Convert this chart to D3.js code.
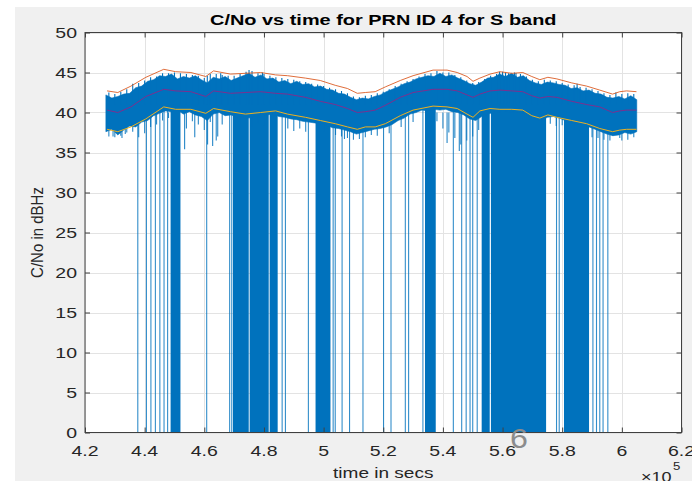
<!DOCTYPE html>
<html><head><meta charset="utf-8">
<script src="https://cdn.jsdelivr.net/npm/d3@7"></script>
<style>html,body{margin:0;padding:0;background:#fff;}svg{display:block;}</style>
</head><body>
<svg id="chart" width="692" height="481"></svg>
<script>
// ---- data (time in units of 1e5 s) ----
const titleText = "C/No vs time for PRN ID 4 for S band";
const xLabelText = "time in secs";
const yLabelText = "C/No in dBHz";
const xTicks = [4.2,4.4,4.6,4.8,5.0,5.2,5.4,5.6,5.8,6.0,6.2];
const xTickLabels = ["4.2","4.4","4.6","4.8","5","5.2","5.4","5.6","5.8","6","6.2"];
const yTicks = [0,5,10,15,20,25,30,35,40,45,50];
const yTickLabels = ["0","5","10","15","20","25","30","35","40","45","50"];

// smoothed statistics lines
const trendTime = [4.274,4.310,4.354,4.404,4.464,4.504,4.555,4.605,4.631,4.688,4.738,4.789,4.839,4.879,4.939,4.989,5.039,5.080,5.113,5.140,5.173,5.207,5.257,5.300,5.367,5.414,5.448,5.481,5.501,5.524,5.558,5.591,5.631,5.668,5.698,5.725,5.752,5.782,5.832,5.882,5.926,5.969,5.993,6.016,6.049];
const upperLine = [42.7,42.5,43.3,44.4,45.4,45.1,45.0,44.5,45.2,44.8,44.9,45.0,44.7,44.6,44.3,44.0,43.4,43.0,42.4,42.5,42.6,43.2,44.0,44.6,45.3,45.3,45.0,44.5,43.9,44.3,44.8,45.1,44.9,45.0,44.5,44.1,44.4,44.2,43.7,43.3,42.8,42.3,42.6,42.7,42.6];
const meanLine  = [40.3,40.0,40.7,42.0,42.9,42.7,42.6,42.0,42.7,42.4,42.5,42.6,42.4,42.3,41.9,41.4,41.0,40.5,40.0,40.1,40.3,40.9,41.9,42.5,42.9,42.9,42.7,42.2,41.9,42.3,42.7,42.8,42.7,42.6,42.1,41.8,42.0,41.9,41.4,41.0,40.7,40.0,40.2,40.3,40.3];
const lowerLine = [37.9,37.6,38.2,39.2,40.7,40.4,40.4,39.9,40.5,40.1,39.8,40.0,40.2,39.8,39.4,39.0,38.6,38.2,37.9,38.2,38.2,38.6,39.6,40.3,40.8,40.7,40.5,39.8,39.4,40.2,40.5,40.4,40.4,40.3,39.6,39.3,39.7,39.4,39.0,38.6,38.0,37.6,37.8,37.9,37.9];

// raw C/No signal: per-sample envelope of the dense trace
const sigTime = [4.27,4.29,4.31,4.33,4.35,4.37,4.39,4.41,4.43,4.45,4.47,4.49,4.51,4.53,4.55,4.57,4.59,4.61,4.63,4.65,4.67,4.69,4.71,4.73,4.75,4.77,4.79,4.81,4.83,4.85,4.87,4.89,4.91,4.93,4.95,4.97,4.99,5.01,5.03,5.05,5.07,5.09,5.11,5.13,5.15,5.17,5.19,5.21,5.23,5.25,5.27,5.29,5.31,5.33,5.35,5.37,5.39,5.41,5.43,5.45,5.47,5.49,5.51,5.53,5.55,5.57,5.59,5.61,5.63,5.65,5.67,5.69,5.71,5.73,5.75,5.77,5.79,5.81,5.83,5.85,5.87,5.89,5.91,5.93,5.95,5.97,5.99,6.01,6.03,6.05];
const sigHigh = [42.2,41.8,42.0,42.3,42.4,43.1,43.3,43.9,44.1,44.6,44.5,44.8,44.2,44.5,44.3,44.6,44.1,43.7,44.4,44.2,44.5,44.0,44.3,44.6,44.9,44.4,44.7,44.2,44.3,43.8,44.0,43.6,43.9,43.5,43.6,43.2,43.3,42.9,42.8,42.4,42.3,41.9,41.6,41.8,41.7,42.0,42.2,42.6,42.9,43.2,43.6,43.8,44.2,44.4,44.6,44.5,44.9,44.5,44.7,44.3,44.0,43.6,43.4,43.8,44.3,44.4,44.8,44.5,44.9,44.4,44.6,44.0,43.7,43.5,43.8,43.7,43.5,43.4,43.0,43.1,42.7,42.8,42.4,42.3,41.9,41.8,42.0,41.7,42.1,41.6];
const sigLow  = [37.6,37.9,37.2,37.8,38.3,38.2,38.8,39.0,39.6,39.9,40.2,40.1,40.3,39.8,40.1,39.7,39.5,39.0,39.8,40.0,39.6,39.7,39.4,39.5,39.3,39.6,39.8,39.7,39.8,39.5,39.4,39.2,39.1,38.9,38.8,38.7,38.6,38.4,38.1,38.0,37.8,37.6,37.3,37.5,37.7,37.9,38.0,38.2,38.5,39.0,39.3,39.8,40.0,40.3,40.2,40.4,40.3,40.4,40.1,40.0,39.7,39.2,39.0,39.5,39.8,40.0,40.1,40.2,40.0,40.1,39.9,39.5,39.2,39.0,39.4,39.5,39.3,39.0,38.9,38.6,38.5,38.2,37.9,37.6,37.3,37.1,37.2,37.5,37.3,37.6];

// upward spikes of the trace [time, peak]
const spikeUpTime = [4.28,4.30,4.32,4.34,4.36,4.38,4.40,4.42,4.44,4.46,4.48,4.50,4.52,4.54,4.56,4.58,4.60,4.61,4.62,4.64,4.655,4.66,4.68,4.70,4.72,4.74,4.75,4.76,4.78,4.795,4.80,4.82,4.84,4.86,4.88,4.90,4.92,4.94,4.96,4.98,5.00,5.02,5.04,5.06,5.08,5.10,5.12,5.14,5.16,5.18,5.20,5.22,5.24,5.26,5.28,5.30,5.32,5.34,5.36,5.38,5.40,5.42,5.44,5.46,5.48,5.50,5.52,5.54,5.56,5.58,5.59,5.60,5.61,5.62,5.64,5.645,5.66,5.68,5.70,5.72,5.74,5.76,5.78,5.80,5.82,5.84,5.85,5.86,5.88,5.90,5.92,5.94,5.96,5.98,6.00,6.02,6.04];
const spikeUpVal  = [42.5,42.3,42.6,42.9,43.6,43.7,44.0,44.4,44.5,44.9,44.9,45.0,44.9,44.8,44.7,44.6,44.3,44.6,44.8,44.8,44.9,44.7,44.6,44.6,44.8,45.1,45.3,45.2,44.9,45.0,44.8,44.6,44.4,44.3,44.2,44.1,43.9,43.8,43.6,43.5,43.3,43.1,42.9,42.7,42.4,42.0,41.9,42.1,42.2,42.4,42.6,42.9,43.3,43.6,43.9,44.2,44.5,44.8,44.9,45.2,45.0,45.0,44.7,44.4,44.0,43.7,43.8,44.2,44.6,44.8,45.1,45.1,45.0,44.9,45.0,44.95,44.8,44.5,44.1,43.9,44.1,44.0,43.9,43.7,43.5,43.4,43.6,43.2,43.1,42.9,42.7,42.4,42.2,42.5,42.3,42.4,42.3];
// partial downward spikes [time, minimum]
const dipTime = [4.28,4.294,4.30,4.32,4.324,4.335,4.34,4.36,4.38,4.40,4.42,4.44,4.46,4.48,4.534,4.54,4.56,4.568,4.58,4.60,4.611,4.62,4.628,4.64,4.645,4.66,4.72,4.76,4.78,4.80,4.84,4.88,4.90,4.92,4.94,5.00,5.04,5.06,5.07,5.08,5.10,5.12,5.14,5.16,5.18,5.22,5.26,5.30,5.38,5.40,5.414,5.42,5.44,5.455,5.46,5.48,5.50,5.52,5.54,5.76,5.78,5.80,5.84,5.86,5.88,5.90,5.92,5.94,5.96,5.97,5.993,6.00,6.02,6.04];
const dipVal  = [37.0,37.0,36.9,37.1,36.8,37.3,37.5,37.6,36.9,37.4,38.2,38.5,39.0,39.3,35.4,38.0,38.9,36.9,38.5,37.8,36.0,38.8,35.8,36.5,37.0,38.5,38.0,38.2,38.6,38.4,38.3,38.0,37.7,38.0,37.6,37.6,37.2,37.0,36.7,36.8,36.6,36.7,36.9,37.2,37.1,37.4,38.2,38.8,38.9,38.0,36.2,37.5,36.8,35.2,36.0,36.5,37.0,37.8,38.5,38.6,38.3,38.4,37.9,37.6,37.2,36.9,36.8,36.6,36.5,37.1,36.8,36.5,36.6,36.9];
// isolated drop-outs to 0 dB-Hz
const dropTime = [4.377,4.406,4.421,4.436,4.451,4.465,4.477,4.608,4.685,4.692,4.861,4.872,4.949,5.032,5.039,5.062,5.087,5.132,5.201,5.226,5.274,5.285,5.333,5.435,5.463,5.478,5.491,5.500,5.515,5.781,5.790,5.903,5.915,5.926,5.937,5.953];
// continuous drop-out stretches [start, end]
const blockStart = [4.487,4.696,4.752,4.819,4.973,5.340,5.530,5.561,5.806];
const blockEnd   = [4.520,4.749,4.816,4.846,5.023,5.376,5.557,5.746,5.890];

// ---- drawing ----
const svg = d3.select("#chart");
const W = 692, H = 481;
const x = d3.scaleLinear().domain([4.2, 6.2]).range([85, 681.5]);
const y = d3.scaleLinear().domain([0, 50]).range([432.5, 32.5]);
const SX = 1.3; // horizontal stretch of the original screenshot
const FONT = "'Liberation Sans', Arial, Helvetica, sans-serif";

// figure background
svg.append("rect").attr("x",0).attr("y",0).attr("width",W).attr("height",H).attr("fill","#ffffff");
svg.append("rect").attr("x",15).attr("y",7).attr("width",W-15).attr("height",H-7).attr("fill","#f0f0f0");
// axes background
svg.append("rect").attr("x",x(4.2)).attr("y",y(50)).attr("width",x(6.2)-x(4.2)).attr("height",y(0)-y(50)).attr("fill","#ffffff");

// grid
const grid = svg.append("g").attr("stroke","#e3e3e3").attr("stroke-width",1);
xTicks.forEach(t => grid.append("line").attr("x1",Math.round(x(t))+0.5).attr("x2",Math.round(x(t))+0.5).attr("y1",y(0)).attr("y2",y(50)));
yTicks.forEach(v => grid.append("line").attr("x1",x(4.2)).attr("x2",x(6.2)).attr("y1",Math.round(y(v))+0.5).attr("y2",Math.round(y(v))+0.5));

svg.append("clipPath").attr("id","plotclip").append("rect")
  .attr("x",x(4.2)).attr("y",y(50)).attr("width",x(6.2)-x(4.2)).attr("height",y(0)-y(50));
const data = svg.append("g").attr("clip-path","url(#plotclip)");
const BLUE = "#0072BD";

// drop-out blocks
blockStart.forEach((s,i) => {
  data.append("rect").attr("x",x(s)).attr("width",x(blockEnd[i])-x(s))
    .attr("y",y(41)).attr("height",y(0)-y(41)).attr("fill",BLUE);
});
// isolated drop-outs
dropTime.forEach(t => {
  data.append("line").attr("x1",x(t)).attr("x2",x(t)).attr("y1",y(0)).attr("y2",y(41))
    .attr("stroke",BLUE).attr("stroke-width",1.1).attr("stroke-opacity",0.8);
});
// partial dips
dipTime.forEach((t,i) => {
  data.append("line").attr("x1",x(t)).attr("x2",x(t)).attr("y1",y(dipVal[i])).attr("y2",y(40))
    .attr("stroke",BLUE).attr("stroke-width",1.1).attr("stroke-opacity",0.85);
});
// main band
const band = d3.area().x((d,i)=>x(sigTime[i])).y0((d,i)=>y(sigLow[i])).y1((d,i)=>y(sigHigh[i]));
data.append("path").attr("d", band(sigTime)).attr("fill",BLUE).attr("stroke",BLUE).attr("stroke-width",0.6);
// upward spikes
spikeUpTime.forEach((t,i) => {
  data.append("line").attr("x1",x(t)).attr("x2",x(t)).attr("y1",y(spikeUpVal[i])).attr("y2",y(41))
    .attr("stroke",BLUE).attr("stroke-width",1.1);
});

// statistics lines
const mk = arr => d3.line().x((d,i)=>x(trendTime[i])).y((d,i)=>y(arr[i]))(arr);
data.append("path").attr("d",mk(upperLine)).attr("fill","none").attr("stroke","#D95319").attr("stroke-width",1).attr("stroke-opacity",0.85);
data.append("path").attr("d",mk(meanLine)).attr("fill","none").attr("stroke","#7E2F8E").attr("stroke-width",1);
data.append("path").attr("d",mk(lowerLine)).attr("fill","none").attr("stroke","#EDB120").attr("stroke-width",1);

// axes ticks (inward) using d3 axes
const AX = "#404040";
function styleAxis(g){ g.select(".domain").remove(); g.selectAll("text").remove(); g.selectAll("line").attr("stroke",AX); }
svg.append("g").attr("transform",`translate(0,${y(0)})`).call(d3.axisBottom(x).tickValues(xTicks).tickSizeInner(-5).tickSizeOuter(0)).call(styleAxis);
svg.append("g").attr("transform",`translate(0,${y(50)})`).call(d3.axisTop(x).tickValues(xTicks).tickSizeInner(-5).tickSizeOuter(0)).call(styleAxis);
svg.append("g").attr("transform",`translate(${x(4.2)},0)`).call(d3.axisLeft(y).tickValues(yTicks).tickSizeInner(-5).tickSizeOuter(0)).call(styleAxis);
svg.append("g").attr("transform",`translate(${x(6.2)},0)`).call(d3.axisRight(y).tickValues(yTicks).tickSizeInner(-5).tickSizeOuter(0)).call(styleAxis);
// box
svg.append("rect").attr("x",x(4.2)).attr("y",y(50)).attr("width",x(6.2)-x(4.2)).attr("height",y(0)-y(50))
  .attr("fill","none").attr("stroke",AX).attr("stroke-width",1);

// text helper (stretched horizontally)
function txt(str, px, py, size, opts={}) {
  const t = svg.append("text").text(str)
    .attr("transform",`translate(${px},${py}) scale(${opts.sx||SX},1)`)
    .attr("font-family",FONT).attr("font-size",size)
    .attr("fill",opts.fill||"#262626")
    .attr("text-anchor",opts.anchor||"middle");
  if (opts.bold) t.attr("font-weight","bold");
  return t;
}
xTicks.forEach((t,i) => txt(xTickLabels[i], x(t), 455.5, 15));
yTicks.forEach((v,i) => txt(yTickLabels[i], 77, y(v)+5.5, 15, {anchor:"end"}));
txt(titleText, (x(4.2)+x(6.2))/2, 24.5, 15, {bold:true, fill:"#000000", sx:1.33});
txt(xLabelText, (x(4.2)+x(6.2))/2, 478, 15, {sx:1.27});
// y label (rotated; screenshot stretch widens the glyphs horizontally)
svg.append("text").text(yLabelText)
  .attr("transform",`translate(43,${(y(0)+y(50))/2}) scale(1.15,1) rotate(-90)`)
  .attr("font-family",FONT).attr("font-size",15).attr("fill","#262626").attr("text-anchor","middle");
// exponent
txt("\u00d710", 641, 482, 15, {anchor:"start", sx:1.2});
txt("5", 673, 470, 11, {anchor:"start", sx:1.2});
// stray glyph present in the source screenshot
txt("6", 519, 448, 28, {fill:"#8c8c8c", sx:1.15});
</script>
</body></html>
